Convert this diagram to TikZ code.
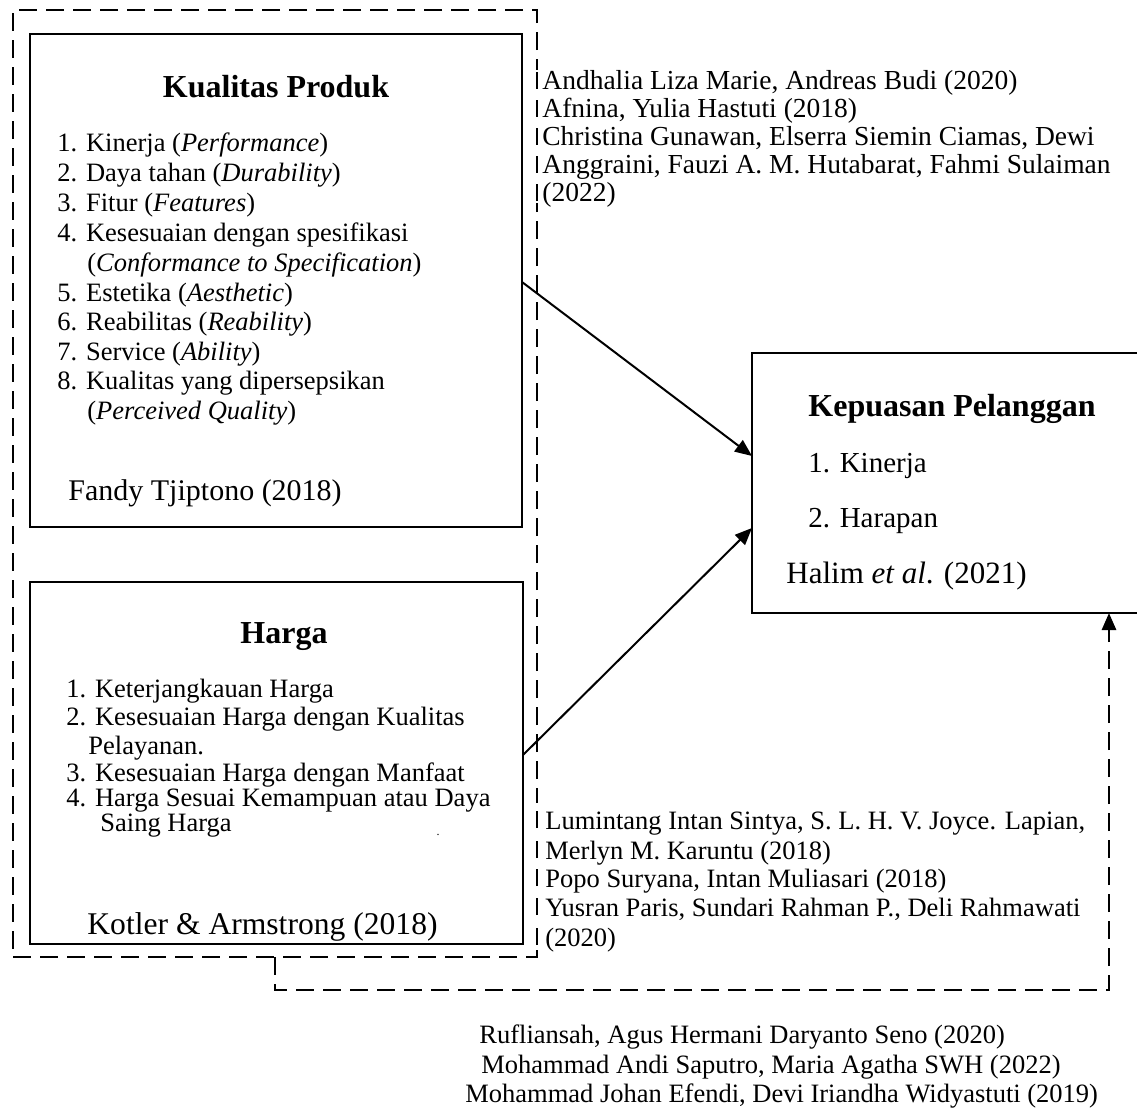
\documentclass[tikz,border=0pt]{standalone}
\usepackage{fontspec}
\setmainfont{Liberation Serif}
\usetikzlibrary{arrows.meta,calc}
\begin{document}
\begin{tikzpicture}[x=0.5pt,y=-0.5pt,
  box/.style={draw,line width=1.25pt,rectangle,inner sep=0,outer sep=0},
  grp/.style={draw,line width=1.4pt,dash pattern=on 9pt off 4.5pt,rectangle,inner sep=0,outer sep=0},
  body/.style={anchor=base west,inner sep=0,font=\fontsize{13.25}{15}\selectfont},
  refs/.style={anchor=base west,inner sep=0,font=\fontsize{13.75}{15}\selectfont},
  ttl/.style={anchor=base,inner sep=0,font=\fontsize{16}{18}\selectfont\bfseries},
  src/.style={anchor=base west,inner sep=0,font=\fontsize{15}{17}\selectfont},
  bar/.style={line width=1pt},
  link/.style={line width=1pt,-{Triangle[length=8.5pt,width=7pt]}},
  fb/.style={line width=1.4pt,dash pattern=on 9pt off 4.5pt,-{Triangle[length=8.5pt,width=7pt]}}]
\useasboundingbox (0,0) rectangle (1137,1109);
\clip (0,0) rectangle (1137,1109);
% boxes
\node[grp,minimum width=262pt,minimum height=473.5pt] (grp) at (275,483.5) {};
\node[box,minimum width=246pt,minimum height=246.5pt] (kual) at (276,280.5) {};
\node[box,minimum width=246.5pt,minimum height=181pt] (harga) at (276.5,763) {};
\node[box,minimum width=199pt,minimum height=130pt] (kep) at (951,483) {};
% text frames covering the dashed line beside the reference lists
\fill[white] (531,70) rectangle (543,203);
\fill[white] (531,803) rectangle (543,950);
% Kualitas Produk
\node[ttl] (kt) at (276,97) {Kualitas Produk};
\node[body] (k1) at (57,151) {1. Kinerja (\textit{Performance})};
\node[body] (k2) at (57,181) {2. Daya tahan (\textit{Durability})};
\node[body] (k3) at (57,211) {3. Fitur (\textit{Features})};
\node[body] (k4) at (57,241) {4. Kesesuaian dengan spesifikasi};
\node[body] (k4b) at (87,271) {(\textit{Conformance to Specification})};
\node[body] (k5) at (57,301) {5. Estetika (\textit{Aesthetic})};
\node[body] (k6) at (57,330) {6. Reabilitas (\textit{Reability})};
\node[body] (k7) at (57,360) {7. Service (\textit{Ability})};
\node[body] (k8) at (57,389) {8. Kualitas yang dipersepsikan};
\node[body] (k8b) at (87,419) {(\textit{Perceived Quality})};
\node[src] (ksrc) at (68,500) {Fandy Tjiptono (2018)};
% Harga
\node[ttl] (ht) at (284,643.5) {Harga};
\node[body] (h1) at (66,697) {1. Keterjangkauan Harga};
\node[body] (h2) at (66,725) {2. Kesesuaian Harga dengan Kualitas};
\node[body] (h2b) at (88,754) {Pelayanan.};
\node[body] (h3) at (66,781) {3. Kesesuaian Harga dengan Manfaat};
\node[body] (h4) at (66,806) {4. Harga Sesuai Kemampuan atau Daya};
\node[body] (h4b) at (100,831) {Saing Harga};
\node[inner sep=0,font=\fontsize{6}{6}\selectfont] (dot) at (438,835) {.};
\node[anchor=base west,inner sep=0,font=\fontsize{15.8}{17}\selectfont] (hsrc) at (87,934) {Kotler \& Armstrong (2018)};
% Kepuasan Pelanggan
\node[anchor=base west,inner sep=0,font=\fontsize{16}{18}\selectfont\bfseries] (pt) at (808,416.5) {Kepuasan Pelanggan};
\node[anchor=base west,inner sep=0,font=\fontsize{14.5}{16}\selectfont] (p1) at (808,472) {1. Kinerja};
\node[anchor=base west,inner sep=0,font=\fontsize{14.5}{16}\selectfont] (p2) at (808,527) {2. Harapan};
\node[anchor=base west,inner sep=0,font=\fontsize{15.5}{17}\selectfont] (psrc) at (786,583) {Halim \textit{et al}. (2021)};
% references top right
\node[refs] (r1) at (542,89.5) {Andhalia Liza Marie, Andreas Budi (2020)};
\node[refs] (r2) at (542,117.5) {Afnina, Yulia Hastuti (2018)};
\node[refs] (r3) at (542,145.5) {Christina Gunawan, Elserra Siemin Ciamas, Dewi};
\node[refs] (r4) at (542,173.5) {Anggraini, Fauzi A. M. Hutabarat, Fahmi Sulaiman};
\node[refs] (r5) at (542,201.5) {(2022)};
\foreach \n in {r1,r2,r3,r4,r5}
  \draw[bar] ($(\n.base west)+(-5,-1)$) -- ++(0,-17);
% references right of Harga
\node[body] (s1) at (545,829) {Lumintang Intan Sintya, S. L. H. V. Joyce. Lapian,};
\node[body] (s2) at (545,859) {Merlyn M. Karuntu (2018)};
\node[body] (s3) at (545,887) {Popo Suryana, Intan Muliasari (2018)};
\node[body] (s4) at (545,916) {Yusran Paris, Sundari Rahman P., Deli Rahmawati};
\node[body] (s5) at (545,946) {(2020)};
\foreach \n in {s1,s2,s3,s4,s5}
  \draw[bar] ($(\n.base west)+(-8,-1)$) -- ++(0,-17);
% references bottom
\node[body] (b1) at (479,1043) {Rufliansah, Agus Hermani Daryanto Seno (2020)};
\node[body] (b2) at (481,1073) {Mohammad Andi Saputro, Maria Agatha SWH (2022)};
\node[body] (b3) at (465,1102) {Mohammad Johan Efendi, Devi Iriandha Widyastuti (2019)};
% connectors
\draw[link] ($(kual.east)+(0,1.5)$) -- ($(kep.west)+(0,-27)$);
\draw[link] ($(harga.east)+(0,-8)$) -- ($(kep.west)+(0,45)$);
\draw[fb] (grp.south) -- ++(0,33) -| ($(kep.south)+(158,0)$);
\end{tikzpicture}
\end{document}
